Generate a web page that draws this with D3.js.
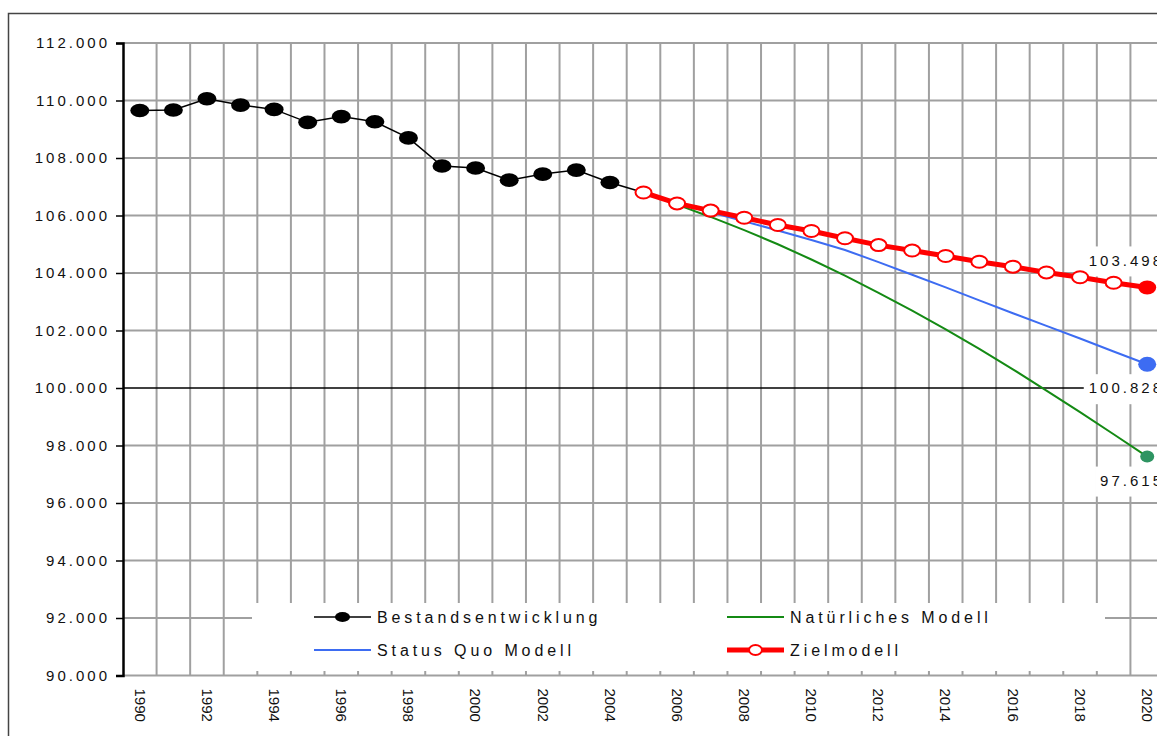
<!DOCTYPE html>
<html>
<head>
<meta charset="utf-8">
<script src="https://cdn.jsdelivr.net/npm/d3@7"></script>
<style>
  html, body { margin: 0; padding: 0; background: #fff; }
  svg { display: block; font-family: "Liberation Sans", Arial, sans-serif; }
</style>
</head>
<body>
<div id="chart"></div>
<script>
const years = [1990, 1991, 1992, 1993, 1994, 1995, 1996, 1997, 1998, 1999, 2000,
  2001, 2002, 2003, 2004, 2005, 2006, 2007, 2008, 2009, 2010,
  2011, 2012, 2013, 2014, 2015, 2016, 2017, 2018, 2019, 2020];
const xTickYears = [1990, 1992, 1994, 1996, 1998, 2000, 2002, 2004, 2006, 2008,
  2010, 2012, 2014, 2016, 2018, 2020];
const yTicks = [90000, 92000, 94000, 96000, 98000, 100000, 102000, 104000, 106000,
  108000, 110000, 112000];

const bestandYears = [1990, 1991, 1992, 1993, 1994, 1995, 1996, 1997, 1998, 1999,
  2000, 2001, 2002, 2003, 2004, 2005];
const bestandValues = [109650, 109670, 110060, 109840, 109690, 109240, 109440, 109260,
  108700, 107720, 107650, 107230, 107440, 107580, 107150, 106800];

const modelYears = [2005, 2006, 2007, 2008, 2009, 2010, 2011, 2012, 2013, 2014,
  2015, 2016, 2017, 2018, 2019, 2020];
const zielValues = [106800, 106420, 106170, 105920, 105670, 105460, 105210, 104970,
  104780, 104590, 104390, 104220, 104020, 103850, 103660, 103498];
const statusQuoValues = [106800, 106430, 106110, 105800, 105480, 105150, 104800, 104380,
  103940, 103500, 103050, 102600, 102160, 101720, 101270, 100828];
const natuerlichValues = [106800, 106380, 105950, 105490, 105000, 104470, 103910, 103310,
  102690, 102040, 101360, 100650, 99910, 99160, 98390, 97615];

const width = 1157;
const height = 736;
const plotLeft = 123;
const plotRight = 1164;
const plotTop = 43;
const plotBottom = 675.5;
const gridColor = '#a0a0a0';
const red = '#ff0000';
const blue = '#3d6cf2';
const green = '#148a14';

const de = d3.formatLocale({ decimal: ',', thousands: '.', grouping: [3], currency: ['', ' €'] });
const fmt = de.format(',');

const zip = (xs, vs) => xs.map((d, i) => ({ year: d, value: vs[i] }));

const svg = d3.select('#chart')
  .append('svg')
  .attr('width', width)
  .attr('height', height);

svg.append('rect')
  .attr('width', width)
  .attr('height', height)
  .attr('fill', '#fff');

// outer frame (runs off the right and bottom edge)
svg.append('rect')
  .attr('x', 8.5)
  .attr('y', 13.5)
  .attr('width', 1300)
  .attr('height', 900)
  .attr('fill', 'none')
  .attr('stroke', '#444')
  .attr('stroke-width', 1.5);

const x = d3.scaleBand()
  .domain(years)
  .range([plotLeft, plotRight]);
const y = d3.scaleLinear()
  .domain([90000, 112000])
  .range([plotBottom, plotTop]);
const cx = d => x(d) + x.bandwidth() / 2;

// grid
svg.append('g')
  .selectAll('line')
  .data(years).enter()
  .append('line')
  .attr('x1', d => x(d) + x.bandwidth())
  .attr('x2', d => x(d) + x.bandwidth())
  .attr('y1', plotTop)
  .attr('y2', plotBottom)
  .attr('stroke', gridColor)
  .attr('stroke-width', 2);

svg.append('g')
  .selectAll('line')
  .data(yTicks.filter(d => d !== 100000)).enter()
  .append('line')
  .attr('x1', plotLeft)
  .attr('x2', plotRight)
  .attr('y1', d => y(d))
  .attr('y2', d => y(d))
  .attr('stroke', gridColor)
  .attr('stroke-width', 2);

svg.append('line')
  .attr('x1', plotLeft)
  .attr('x2', plotRight)
  .attr('y1', y(100000))
  .attr('y2', y(100000))
  .attr('stroke', '#000')
  .attr('stroke-width', 1.5);

// y axis
const yAxis = svg.append('g')
  .attr('transform', `translate(${plotLeft},0)`)
  .call(d3.axisLeft(y).tickValues(yTicks).tickSize(7).tickPadding(12).tickFormat(fmt));
yAxis.select('.domain')
  .attr('stroke', '#000')
  .attr('stroke-width', 2.5);
yAxis.selectAll('.tick line')
  .attr('stroke', '#000')
  .attr('stroke-width', 1.5);
yAxis.selectAll('.tick text')
  .attr('fill', '#111')
  .style('font-size', '15px')
  .style('letter-spacing', '3px')
  .attr('x', -13);

// x labels
svg.append('g')
  .selectAll('text')
  .data(xTickYears).enter()
  .append('text')
  .attr('transform', d => `translate(${cx(d)},${plotBottom + 13}) rotate(90)`)
  .attr('dy', '0.35em')
  .attr('fill', '#111')
  .style('font-size', '15px')
  .text(d => d);

// end value labels with white boxes
const endLabels = [
  { value: zielValues[zielValues.length - 1], offset: -27 },
  { value: statusQuoValues[statusQuoValues.length - 1], offset: 24 },
  { value: natuerlichValues[natuerlichValues.length - 1], offset: 24 }
];
const labelG = svg.append('g');
endLabels.forEach(l => {
  const ly = y(l.value) + l.offset;
  const t = labelG.append('text')
    .attr('x', 1164)
    .attr('y', ly)
    .attr('dy', '0.35em')
    .attr('text-anchor', 'end')
    .attr('fill', '#111')
    .style('font-size', '15px')
    .style('letter-spacing', '3px')
    .text(fmt(l.value));
  const bb = t.node().getBBox();
  labelG.insert('rect', 'text')
    .attr('x', bb.x - 5)
    .attr('y', ly - 14)
    .attr('width', bb.width + 20)
    .attr('height', 30)
    .attr('fill', '#fff');
});

// series
const line = d3.line()
  .x(d => cx(d.year))
  .y(d => y(d.value));

svg.append('path')
  .datum(zip(modelYears, natuerlichValues))
  .attr('fill', 'none')
  .attr('stroke', green)
  .attr('stroke-width', 2)
  .attr('d', line);
svg.append('path')
  .datum(zip(modelYears, statusQuoValues))
  .attr('fill', 'none')
  .attr('stroke', blue)
  .attr('stroke-width', 2)
  .attr('d', line);

const bestand = zip(bestandYears, bestandValues);
svg.append('path')
  .datum(bestand)
  .attr('fill', 'none')
  .attr('stroke', '#000')
  .attr('stroke-width', 1.5)
  .attr('d', line);
svg.append('g')
  .selectAll('ellipse')
  .data(bestand.slice(0, -1)).enter()
  .append('ellipse')
  .attr('cx', d => cx(d.year))
  .attr('cy', d => y(d.value))
  .attr('rx', 9.5)
  .attr('ry', 6.8)
  .attr('fill', '#000');

const ziel = zip(modelYears, zielValues);
svg.append('path')
  .datum(ziel)
  .attr('fill', 'none')
  .attr('stroke', red)
  .attr('stroke-width', 5)
  .attr('d', line);
svg.append('g')
  .selectAll('ellipse')
  .data(ziel.slice(0, -1)).enter()
  .append('ellipse')
  .attr('cx', d => cx(d.year))
  .attr('cy', d => y(d.value))
  .attr('rx', 8)
  .attr('ry', 6)
  .attr('fill', '#fff')
  .attr('stroke', red)
  .attr('stroke-width', 2);

// end markers
const ends = [
  { d: ziel[ziel.length - 1], color: red, rx: 9, ry: 7 },
  { d: zip(modelYears, statusQuoValues)[modelYears.length - 1], color: blue, rx: 9, ry: 7.5 },
  { d: zip(modelYears, natuerlichValues)[modelYears.length - 1], color: '#2e9462', rx: 7, ry: 6 }
];
svg.append('g')
  .selectAll('ellipse')
  .data(ends).enter()
  .append('ellipse')
  .attr('cx', e => cx(e.d.year))
  .attr('cy', e => y(e.d.value))
  .attr('rx', e => e.rx)
  .attr('ry', e => e.ry)
  .attr('fill', e => e.color);

// legend
svg.append('rect')
  .attr('x', 252)
  .attr('y', 603)
  .attr('width', 853)
  .attr('height', 68)
  .attr('fill', '#fff');

const legendItems = [
  { name: 'Bestandsentwicklung', x: 314, y: 617, color: '#000', width: 1.5, marker: 'filled' },
  { name: 'Status Quo Modell', x: 314, y: 650, color: blue, width: 2, marker: null },
  { name: 'Natürliches Modell', x: 727, y: 617, color: green, width: 2, marker: null },
  { name: 'Zielmodell', x: 727, y: 650, color: red, width: 5, marker: 'open' }
];
const legend = svg.append('g')
  .selectAll('g')
  .data(legendItems).enter()
  .append('g')
  .attr('transform', d => `translate(${d.x},${d.y})`);
legend.append('line')
  .attr('x1', 0)
  .attr('x2', 57)
  .attr('stroke', d => d.color)
  .attr('stroke-width', d => d.width);
legend.filter(d => d.marker)
  .append('ellipse')
  .attr('cx', 28.5)
  .attr('rx', d => d.marker === 'filled' ? 7.5 : 6.5)
  .attr('ry', 5)
  .attr('fill', d => d.marker === 'filled' ? '#000' : '#fff')
  .attr('stroke', d => d.marker === 'open' ? red : 'none')
  .attr('stroke-width', 2);
legend.append('text')
  .attr('x', 63)
  .attr('dy', '0.36em')
  .attr('fill', '#111')
  .style('font-size', '16px')
  .style('letter-spacing', '3.9px')
  .text(d => d.name);
</script>
</body>
</html>
